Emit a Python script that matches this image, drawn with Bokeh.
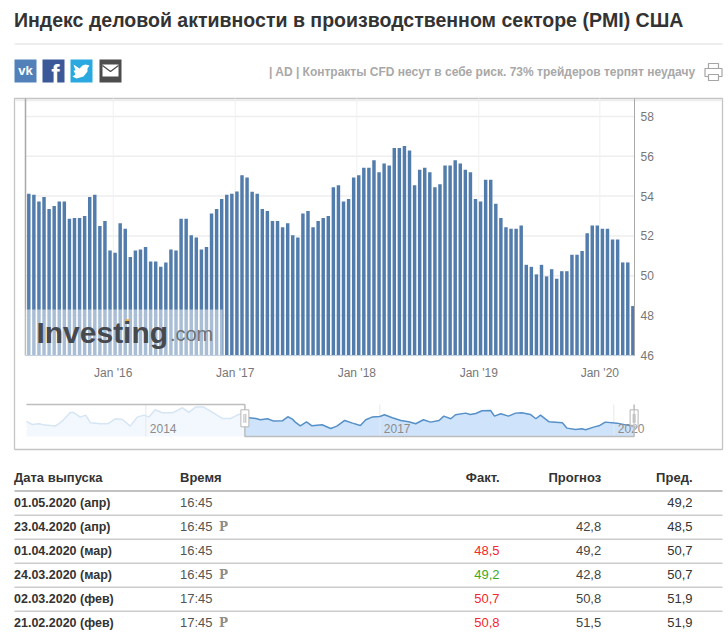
from bokeh.embed import file_html
from bokeh.resources import INLINE
from bokeh.plotting import figure
from bokeh.models import FixedTicker, Label, Range1d
from bokeh.core.properties import value

FONT = "Liberation Sans"

title_text = "Индекс деловой активности в производственном секторе (PMI) США"
ad_text = "| AD | Контракты CFD несут в себе риск. 73% трейдеров терпят неудачу"

pmi_values = [
    54.12, 54.07, 53.73, 53.95, 53.35, 53.5, 53.73, 53.73, 52.86, 52.9, 52.9, 53.0, 53.95, 54.07,
    52.5, 52.75, 51.27, 51.15, 52.64, 52.36, 50.94, 51.27, 51.32, 51.44, 50.72, 50.72, 50.45, 50.67,
    51.32, 51.27, 52.86, 52.86, 52.04, 51.92, 51.32, 51.44, 53.13, 53.35, 53.85, 54.07, 54.12, 54.23,
    55.05, 54.94, 54.22, 54.12, 53.35, 53.25, 52.75, 52.75, 52.43, 52.64, 52.04, 51.92, 53.13, 53.25,
    52.43, 52.75, 52.9, 53.0, 54.45, 54.55, 53.73, 53.85, 54.94, 55.05, 55.42, 55.42, 55.8, 55.2,
    55.64, 55.54, 56.41, 56.41, 56.51, 56.29, 54.55, 55.32, 55.42, 55.2, 54.45, 54.6, 55.54, 55.54,
    55.8, 55.64, 55.32, 55.2, 53.85, 53.73, 54.82, 54.82, 53.61, 52.9, 52.43, 52.36, 52.36, 52.53,
    50.55, 50.45, 50.07, 50.55, 49.97, 50.33, 49.85, 50.23, 50.23, 51.05, 51.05, 51.25, 52.14, 52.53,
    52.53, 52.36, 52.36, 51.82, 51.82, 50.67, 50.67, 48.48,
]
x_tick_positions = [16.63, 40.66, 64.62, 88.65, 112.49]
x_tick_labels = ["Jan '16", "Jan '17", "Jan '18", "Jan '19", "Jan '20"]
y_ticks = [46, 48, 50, 52, 54, 56, 58]

nav_years = [
    2012.47, 2012.54, 2012.63, 2012.71, 2012.84, 2012.93, 2013.03, 2013.07, 2013.16, 2013.23, 2013.29,
    2013.42, 2013.51, 2013.61, 2013.70, 2013.80, 2013.89, 2013.98, 2014.04, 2014.12, 2014.21, 2014.34,
    2014.47, 2014.55, 2014.64, 2014.74, 2014.87, 2014.98, 2015.09, 2015.19, 2015.26,
    2015.32, 2015.41, 2015.47, 2015.56, 2015.64, 2015.75, 2015.82, 2015.88, 2015.92, 2015.98, 2016.06,
    2016.13, 2016.26, 2016.37, 2016.45, 2016.55, 2016.65, 2016.75, 2016.82, 2016.90, 2017.00, 2017.06,
    2017.16, 2017.27, 2017.37, 2017.46, 2017.56, 2017.65, 2017.76, 2017.82, 2017.91, 2017.97, 2018.10,
    2018.16, 2018.23, 2018.31, 2018.42, 2018.47, 2018.55, 2018.65, 2018.74, 2018.82, 2018.93, 2019.00,
    2019.06, 2019.17, 2019.34, 2019.40, 2019.51, 2019.59, 2019.64, 2019.74, 2019.81, 2019.89, 2020.04,
    2020.17, 2020.24,
]
nav_values = [
    52.55, 51.53, 51.76, 51.31, 50.97, 52.66, 55.59, 55.59, 54.01, 54.68, 52.09,
    51.76, 51.76, 53.45, 53.22, 50.97, 54.01, 54.68, 54.01, 56.49, 55.47, 55.47,
    57.16, 55.59, 57.39, 57.39, 55.36, 53.56, 53.56, 54.91, 55.14,
    53.78, 53.56, 53.11, 53.45, 52.66, 52.77, 54.12, 53.33, 52.21, 51.08, 52.43,
    51.08, 51.42, 50.18, 50.97, 52.88, 51.98, 51.19, 53.11, 54.01, 54.23, 54.80,
    53.78, 52.88, 52.43, 51.76, 53.11, 52.32, 52.88, 54.35, 53.45, 54.80, 55.36,
    54.91, 55.25, 56.15, 56.26, 54.35, 55.14, 54.35, 55.36, 55.47, 54.91, 53.45,
    54.68, 52.43, 52.09, 50.29, 49.84, 50.07, 49.73, 50.63, 51.08, 52.32, 51.98,
    51.31, 51.08,
]
nav_tick_years = [2014, 2017, 2020]
nav_selection = (2015.27, 2020.26)

table_headers = ["Дата выпуска", "Время", "Факт.", "Прогноз", "Пред."]
table_dates = ["01.05.2020 (апр)", "23.04.2020 (апр)", "01.04.2020 (мар)", "24.03.2020 (мар)", "02.03.2020 (фев)", "21.02.2020 (фев)"]
table_times = ["16:45", "16:45", "16:45", "16:45", "17:45", "17:45"]
table_prelim = ["", "P", "", "P", "", "P"]
table_actual = ["", "", "48,5", "49,2", "50,7", "50,8"]
table_actual_colors = ["#333333", "#333333", "#f5282d", "#3fa81f", "#f5282d", "#f5282d"]
table_forecast = ["", "42,8", "49,2", "42,8", "50,8", "51,5"]
table_previous = ["49,2", "48,5", "50,7", "50,7", "51,9", "51,9"]

BORDER = "#c4c4c4"
PLOT_L, PLOT_R = -0.65, 119.33  # bar-index limits of the plot area
PLOT_TOP = 58.9

p = figure(width=728, height=636, output_backend="svg", toolbar_location=None,
           x_range=Range1d(-5.575, 137.84), y_range=Range1d(31.89, 63.82),
           y_axis_location="right", min_border=0, outline_line_color=None)
p.extra_x_ranges["page"] = Range1d(0, 728)
p.extra_y_ranges["page"] = Range1d(636, 0)
p.extra_x_ranges["nav"] = Range1d(2012.137, 2021.47)
p.extra_y_ranges["nav"] = Range1d(-20.11, 194.77)
p.grid.visible = False
PAGE = dict(x_range_name="page", y_range_name="page")
NAV = dict(x_range_name="nav", y_range_name="nav")


def put(x, y, s, size, color, bold=False, align="left", font=FONT):
    p.text([x], [y], text=[s], text_font=value(font), text_font_size=f"{size}px",
           text_color=color, text_align=align, text_baseline="middle",
           text_font_style="bold" if bold else "normal", **PAGE)


# ---------- header ----------
put(13.5, 19, title_text, 19.55, "#333333", bold=True)
p.segment([14], [43.5], [722], [43.5], line_color="#dddddd", line_width=1, **PAGE)
icon_lefts = [14, 42, 70, 99]
icon_colors = ["#5181b8", "#3b5998", "#29a9e0", "#4d4d4d"]
p.quad(left=icon_lefts, right=[x + 22 for x in icon_lefts], top=[59] * 4, bottom=[82] * 4,
       fill_color=icon_colors, line_color=None, **PAGE)
put(25, 70, "vk", 13, "#ffffff", bold=True, align="center")
put(55, 73, "f", 25, "#ffffff", bold=True, align="center")
p.patch([73, 79, 82, 85, 89, 87, 87, 83, 76, 72, 75, 73, 75],
        [64, 68, 65, 64, 65, 68, 71, 76, 78, 76, 74, 70, 70], fill_color="#ffffff", line_color=None, **PAGE)
p.quad(left=[102], right=[118], top=[64], bottom=[76], fill_color="#ffffff", line_color=None, **PAGE)
p.line([102, 110, 118], [65, 71, 65], line_color="#4d4d4d", line_width=1.3, **PAGE)
put(695, 71, ad_text, 12, "#a8a8a8", bold=True, align="right")
p.quad(left=[708, 704.5, 708], right=[718, 721.5, 718], top=[63, 68, 74], bottom=[68, 76, 80],
       fill_color="#ffffff", line_color="#a5a5a5", line_width=1.2, **PAGE)

# ---------- outer frame of the chart block ----------
p.line([14, 14, 722, 722, 14], [449, 98, 98, 449, 449], line_color=BORDER, line_width=1.3, **PAGE)
p.segment([15], [99.7], [721], [99.7], line_color="#ececec", line_width=2, **PAGE)

# ---------- main bars ----------
p.segment([PLOT_L] * len(y_ticks), y_ticks, [PLOT_R] * len(y_ticks), y_ticks, line_color="#eeeeee", line_width=1.5)
p.segment(x_tick_positions, [46] * 5, x_tick_positions, [PLOT_TOP] * 5, line_color="#f0f0f0", line_width=1)
indices = list(range(len(pmi_values)))
p.vbar(x=indices, top=pmi_values, bottom=46, width=0.68, fill_color="#527cab", line_color=None)
p.xaxis.fixed_location = 46
p.yaxis.fixed_location = PLOT_R
p.xaxis.bounds = (PLOT_L, PLOT_R)
p.yaxis.bounds = (46, PLOT_TOP)
p.xaxis.ticker = FixedTicker(ticks=x_tick_positions)
p.xaxis.major_label_overrides = dict(zip(x_tick_positions, x_tick_labels))
p.xaxis.axis_line_color = "#c3d2e2"
p.xaxis.major_label_standoff = 11
p.yaxis.ticker = FixedTicker(ticks=y_ticks)
p.yaxis.axis_line_color = "#a8a8a8"
p.yaxis.major_label_standoff = 6
for ax in (p.xaxis, p.yaxis):
    ax.major_tick_line_color = None
    ax.minor_tick_line_color = None
    ax.major_tick_out = 0
    ax.major_tick_in = 0
    ax.minor_tick_out = 0
    ax.minor_tick_in = 0
    ax.major_label_text_font = FONT
    ax.major_label_text_font_size = "12px"
    ax.major_label_text_color = "#777777"
p.segment([PLOT_L], [46], [PLOT_L], [PLOT_TOP], line_color="#a8a8a8", line_width=1.5)

# ---------- watermark ----------
p.quad(left=[PLOT_L], right=[38.2], bottom=[46], top=[48.31], fill_color="#ffffff", fill_alpha=0.5, line_color=None)
p.add_layout(Label(x=1.5, y=47.15, text="Investing", text_font=FONT, text_font_style="bold",
                   text_font_size="30px", text_color="#46494d", text_baseline="alphabetic"))
p.add_layout(Label(x=27.8, y=47.1, text=".com", text_font=FONT, text_font_size="20px",
                   text_color="#6f7275", text_baseline="alphabetic"))
p.scatter([19.35], [47.72], marker="square", size=4, fill_color="#f0ab3c", line_color=None)

# ---------- navigator ----------
NAV_BOTTOM, NAV_TOP = 47.48, 58.29
s0, s1 = nav_selection
n = sum(1 for x in nav_years if x <= s0)
left_x = nav_years[:n] + [s0]
left_y = nav_values[:n] + [nav_values[n]]
right_x = [s0] + nav_years[n:] + [s1]
right_y = [nav_values[n]] + nav_values[n:] + [nav_values[-1]]
p.varea(left_x, [NAV_BOTTOM] * len(left_x), left_y, fill_color="#f3f8fe", **NAV)
p.line(left_x, left_y, line_color="#d5e5f4", line_width=1.5, **NAV)
p.varea(right_x, [NAV_BOTTOM] * len(right_x), right_y, fill_color="#cfe3fb", **NAV)
p.segment(nav_tick_years, [NAV_BOTTOM] * 3, nav_tick_years, [NAV_TOP] * 3, line_color="#e8e8e8", line_width=1, **NAV)
p.line(right_x, right_y, line_color="#5590c8", line_width=1.5, **NAV)
p.text(nav_tick_years, [50.3] * 3, text=[str(y) for y in nav_tick_years], text_font=value(FONT), text_font_size="12px",
       text_color="#8c8c8c", text_align="left", text_baseline="middle", x_offset=4, **NAV)
p.line([nav_years[0], s0, s0, s1, s1], [NAV_TOP, NAV_TOP, NAV_BOTTOM, NAV_BOTTOM, NAV_TOP],
       line_color="#bdbdbd", line_width=1.5, **NAV)
p.rect(x=[s0, s1], y=[53.6, 53.6], width=8, height=17, width_units="screen", height_units="screen",
       fill_color="#ffffff", fill_alpha=[1, 0.3], line_color="#b5b5b5", line_width=1, **NAV)
for s in nav_selection:
    p.segment([s - 0.012, s + 0.012], [55.1, 55.1], [s - 0.012, s + 0.012], [52.1, 52.1],
              line_color="#b5b5b5", line_width=1, **NAV)

# ---------- table ----------
header_xs = [13.5, 179.5, 499, 600.7, 692]
header_aligns = ["left", "left", "right", "right", "right"]
for x, s, a in zip(header_xs, table_headers, header_aligns):
    put(x, 476.5, s, 13, "#333333", bold=True, align=a)
p.segment([14], [490.5], [722], [490.5], line_color="#c2c2c2", line_width=2, **PAGE)
for i in range(6):
    y = 502.5 + 24 * i
    put(13.5, y - 0.5, table_dates[i], 12.5, "#333333", bold=True)
    put(179.5, y - 0.5, table_times[i], 13, "#555555")
    if table_prelim[i]:
        put(218.5, y - 0.5, table_prelim[i], 12, "#8c8c8c", bold=True, font="DejaVu Serif")
    if table_actual[i]:
        put(499, y - 0.5, table_actual[i], 13, table_actual_colors[i], align="right")
    if table_forecast[i]:
        put(600.7, y - 0.5, table_forecast[i], 13, "#444444", align="right")
    put(692, y - 0.5, table_previous[i], 13, "#333333", align="right")
    if i < 5:
        p.segment([14], [y + 12.3], [722], [y + 12.3], line_color="#cccccc", line_width=1.5, **PAGE)

open("out.html", "w").write(file_html(p, INLINE))
